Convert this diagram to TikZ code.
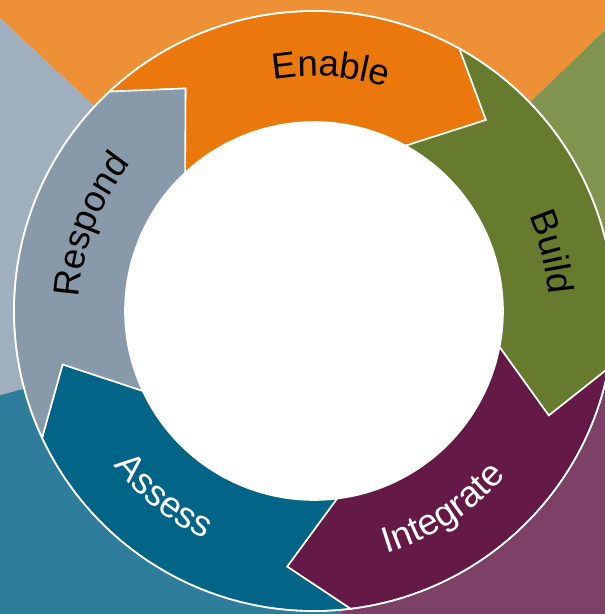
\documentclass[tikz,border=0pt]{standalone}
\usepackage{fontspec}
\newfontfamily\lblfamily{Liberation Sans}
\usetikzlibrary{decorations.text}
\definecolor{cOr}{HTML}{EB780C}
\definecolor{cGr}{HTML}{667B2D}
\definecolor{cPu}{HTML}{641947}
\definecolor{cTe}{HTML}{026486}
\definecolor{cGy}{HTML}{889AA9}
\definecolor{bOr}{HTML}{EE9035}
\definecolor{bGr}{HTML}{80934F}
\definecolor{bPu}{HTML}{7D4066}
\definecolor{bTe}{HTML}{2E7D9B}
\definecolor{bGy}{HTML}{A0AFBD}
\newcommand\lblsize{\lblfamily\fontsize{36.5}{42}\selectfont}
\newcommand\ringseg[2]{%
  \filldraw[fill=#2, segline] (#1:300) arc[start angle=#1, end angle=#1-72, radius=300]
    -- (#1-85:257) -- (#1-72:189) arc[start angle=#1-72, end angle=#1, radius=189]
    -- (#1-13:257) -- cycle;}
\begin{document}
\begin{tikzpicture}[x=1pt,y=1pt,
  segline/.style={draw=white, line width=1.6pt, line join=miter},
  lbl/.style={decorate, decoration={text along path, text align=center}}]
\useasboundingbox (-314,-303) rectangle (291,311);
\clip (-314,-303) rectangle (291,311);
% background sectors
\fill[bOr] (0,0) -- (44:900) arc[start angle=44, end angle=137, radius=900] -- cycle;
\fill[bGy] (0,0) -- (137:900) arc[start angle=137, end angle=195, radius=900] -- cycle;
\fill[bTe] (0,0) -- (195:900) arc[start angle=195, end angle=275, radius=900] -- cycle;
\fill[bPu] (0,0) -- (275:900) arc[start angle=275, end angle=355, radius=900] -- cycle;
\fill[bGr] (0,0) -- (355:900) arc[start angle=355, end angle=404, radius=900] -- cycle;
% ring segments
\ringseg{133}{cOr}
\ringseg{61}{cGr}
\ringseg{-11}{cPu}
\ringseg{-83}{cTe}
\ringseg{-155}{cGy}
\draw[white, line width=1.6pt] (0,0) circle[radius=300];
\fill[white] (0,0) circle[radius=189];
% labels
\path[lbl, decoration={text={|\lblsize|Enable}, text color=black}]
  (126:235) arc[start angle=126, end angle=46, radius=235];
\path[lbl, decoration={text={|\lblsize|Build}, text color=black}]
  (54:235) arc[start angle=54, end angle=-26, radius=235];
\path[lbl, decoration={text={|\lblsize|Respond}, text color=black}]
  (199:235) arc[start angle=199, end angle=119, radius=235];
\path[lbl, decoration={text={|\lblsize|Integrate}, text color=white}]
  (-97:253) arc[start angle=-97, end angle=-17, radius=253];
\path[lbl, decoration={text={|\lblsize|Assess}, text color=white}]
  (-169:253) arc[start angle=-169, end angle=-89, radius=253];
\end{tikzpicture}
\end{document}
